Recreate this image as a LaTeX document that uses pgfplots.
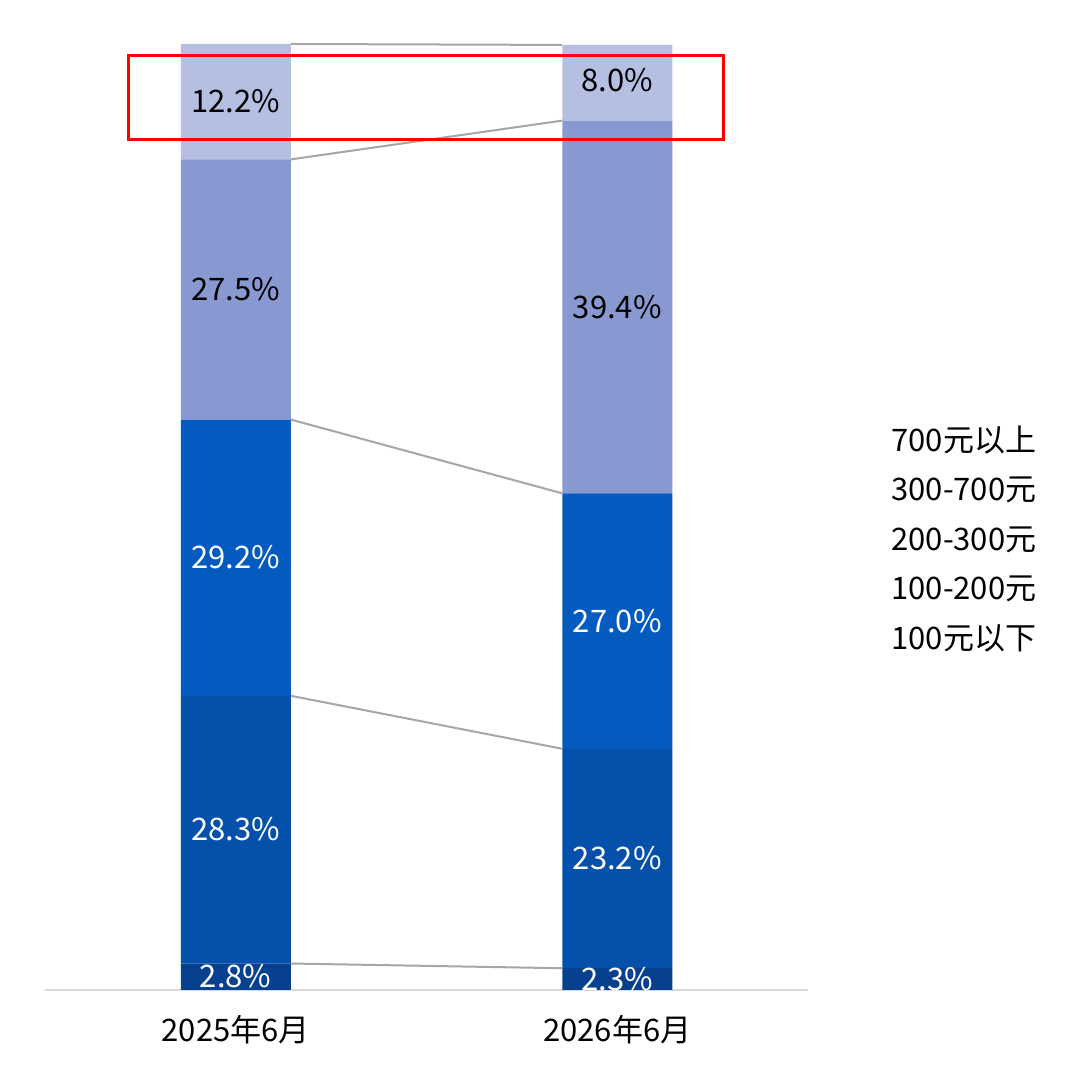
\documentclass[border=0pt]{standalone}
\usepackage{pgfplots}
\pgfplotsset{compat=1.18}
\usepackage{fontspec}
\setmainfont{Noto Sans CJK SC}
\newcommand\f{\fontsize{15.5pt}{18pt}\selectfont}
\definecolor{c1}{HTML}{07408F}
\definecolor{c2}{HTML}{0550AA}
\definecolor{c3}{HTML}{035ABF}
\definecolor{c4}{HTML}{8899D1}
\definecolor{c5}{HTML}{B5BFE1}
\definecolor{lk}{HTML}{A6A6A6}
\pgfplotsset{base/.style={scale only axis, width=381.5pt, height=473pt,
  xmin=-0.5, xmax=1.5, ymin=0, ymax=100, at={(22.5pt,45pt)}, anchor=south west}}
\begin{document}
\begin{tikzpicture}
\path[use as bounding box] (0,0) rectangle (540pt,540pt);
\begin{axis}[base, ybar stacked, bar width=55pt,
  axis x line*=bottom, axis y line=none,
  x axis line style={draw=black!15, line width=1pt},
  xtick={0,1}, xticklabels={2025年6月,2026年6月}, major tick length=0pt,
  xticklabel style={anchor=base, yshift=-25.5pt, font=\f}, ytick=\empty]
\addplot[fill=c1, draw=none] coordinates {(0,2.8) (1,2.3)};
\addplot[fill=c2, draw=none] coordinates {(0,28.3) (1,23.2)};
\addplot[fill=c3, draw=none] coordinates {(0,29.2) (1,27.0)};
\addplot[fill=c4, draw=none] coordinates {(0,27.5) (1,39.4)};
\addplot[fill=c5, draw=none] coordinates {(0,12.2) (1,8.0)};
\end{axis}
\begin{axis}[base, axis lines=none, clip=false]
\addplot[lk, line width=1pt] coordinates {(0.1442,2.8) (0.8558,2.3)};
\addplot[lk, line width=1pt] coordinates {(0.1442,31.1) (0.8558,25.5)};
\addplot[lk, line width=1pt] coordinates {(0.1442,60.3) (0.8558,52.5)};
\addplot[lk, line width=1pt] coordinates {(0.1442,87.8) (0.8558,91.9)};
\addplot[lk, line width=1pt] coordinates {(0.1442,100) (0.8558,99.9)};
\addplot[draw=none, mark=none, nodes near coords, point meta=explicit symbolic,
  every node near coord/.style={anchor=center, yshift=-2pt, text=white, font=\f, text height=0.72em, text depth=0pt, inner sep=0pt}]
  table[meta=l] {
x y l
0 1.4 2.8\%
0 16.95 28.3\%
0 45.7 29.2\%
1 1.15 2.3\%
1 13.9 23.2\%
1 39.0 27.0\%
};
\addplot[draw=none, mark=none, nodes near coords, point meta=explicit symbolic,
  every node near coord/.style={anchor=center, yshift=-2pt, text=black, font=\f, text height=0.72em, text depth=0pt, inner sep=0pt}]
  table[meta=l] {
x y l
0 74.05 27.5\%
0 93.9 12.2\%
1 72.2 39.4\%
1 96.2 8.0\%
};
\end{axis}
\draw[red, line width=1.5pt] (64.25pt,512.25pt) rectangle (361.75pt,470.25pt);
\foreach \t [count=\i from 0] in {700元以上,300-700元,200-300元,100-200元,100元以下}
  \node[anchor=base west, inner sep=0pt, font=\f] at (445.5pt,{314.25pt-\i*24.75pt}) {\t};
\end{tikzpicture}
\end{document}
